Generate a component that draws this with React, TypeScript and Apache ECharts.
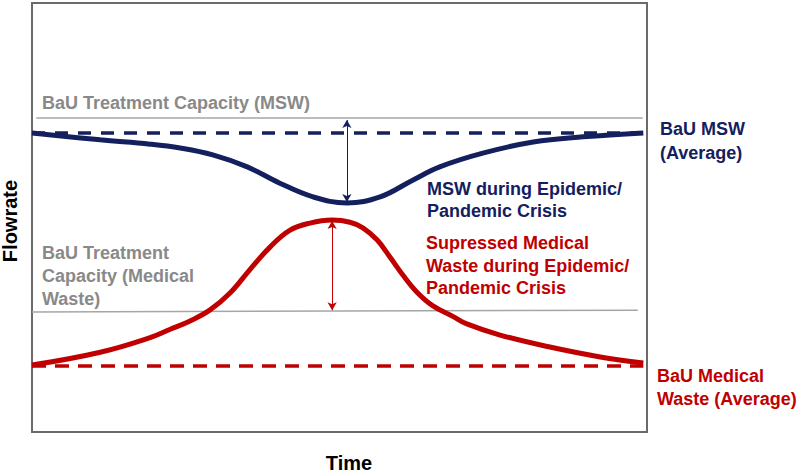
import React, { useEffect, useRef } from "react";
import * as echarts from "echarts";

// Time (0-100) and flowrate (0-100)
const mswTime = [0, 11.1, 19.2, 24.1, 29.4, 35.0, 40.3, 45.7, 51.2, 56.6, 61.9, 66.3, 73.3, 81.5, 89.6, 99.4];
const mswFlow = [69.7, 68.1, 67.1, 66.2, 64.6, 61.8, 58.0, 54.8, 53.4, 54.8, 58.7, 61.8, 65.0, 67.6, 68.8, 69.7];

const medTime = [0, 11.1, 19.2, 22.4, 25.7, 28.9, 32.2, 35.4, 38.7, 41.9, 45.2, 48.8, 51.7, 53.8, 56.1, 58.2, 60.3, 62.6, 65.2, 68.5, 70.7, 76.1, 84.2, 92.4, 99.4];
const medFlow = [15.6, 18.6, 22.0, 23.9, 25.9, 28.4, 32.4, 37.8, 43.1, 47.0, 48.7, 49.4, 48.9, 47.6, 44.8, 40.8, 36.6, 32.6, 29.4, 26.9, 25.2, 22.6, 19.8, 17.5, 16.1];

const mswCapacity = { x: [0.7, 99.3], y: [73.2, 73.2] };
const medCapacity = { x: [0, 98.5], y: [28.0, 28.4] };
const mswAverage = { x: [0, 99.4], y: [69.7, 69.7] };
const medAverage = { x: [0, 99.4], y: [15.4, 15.4] };

const mswArrow = { x: 51.2, y: [72.7, 53.6] };
const medArrow = { x: 48.8, y: [49.2, 28.4] };

const NAVY = "#14205e";
const RED = "#c00000";
const GRAY_LINE = "#a6a6a6";
const GRAY_TEXT = "#898989";
const FONT = "'Liberation Sans', Arial, sans-serif";

const pairs = (xs: number[], ys: number[]) => xs.map((x, i) => [x, ys[i]]);

export default function App() {
  const ref = useRef<HTMLDivElement>(null);
  useEffect(() => {
    if (!ref.current) return;
    const chart = echarts.init(ref.current, undefined, { renderer: "svg" });
    const txt = (x: number, y: number, text: string, color: string, size = 18, extra: any = {}) => ({
      type: "text",
      x,
      y,
      style: {
        text,
        fill: color,
        font: `bold ${size}px ${FONT}`,
        textVerticalAlign: "middle",
        textAlign: "left",
        ...extra,
      },
    });
    chart.setOption({
      animation: false,
      grid: {
        left: 32,
        top: 3,
        width: 615,
        height: 429,
        show: true,
        borderColor: "#6a6a6a",
        borderWidth: 2,
        backgroundColor: "transparent",
      },
      xAxis: { type: "value", min: 0, max: 100, show: false },
      yAxis: { type: "value", min: 0, max: 100, show: false },
      series: [
        {
          type: "line",
          data: pairs(mswCapacity.x, mswCapacity.y),
          symbol: "none",
          lineStyle: { color: GRAY_LINE, width: 1.5 },
        },
        {
          type: "line",
          data: pairs(medCapacity.x, medCapacity.y),
          symbol: "none",
          lineStyle: { color: GRAY_LINE, width: 1.5 },
        },
        {
          type: "line",
          data: pairs(mswAverage.x, mswAverage.y),
          symbol: "none",
          lineStyle: { color: NAVY, width: 3.5, type: [13, 10] },
        },
        {
          type: "line",
          data: pairs(medAverage.x, medAverage.y),
          symbol: "none",
          lineStyle: { color: RED, width: 3.5, type: [14, 9] },
        },
        {
          type: "line",
          data: pairs(mswTime, mswFlow),
          symbol: "none",
          smooth: 0.4,
          lineStyle: { color: NAVY, width: 5 },
          markLine: {
            silent: true,
            symbol: ["arrow", "arrow"],
            symbolSize: [7, 8],
            label: { show: false },
            lineStyle: { color: NAVY, width: 1, type: "solid" },
            data: [[{ coord: [mswArrow.x, mswArrow.y[0]] }, { coord: [mswArrow.x, mswArrow.y[1]] }]],
          },
        },
        {
          type: "line",
          data: pairs(medTime, medFlow),
          symbol: "none",
          smooth: 0.4,
          lineStyle: { color: RED, width: 5 },
          markLine: {
            silent: true,
            symbol: ["arrow", "arrow"],
            symbolSize: [7, 8],
            label: { show: false },
            lineStyle: { color: RED, width: 1, type: "solid" },
            data: [[{ coord: [medArrow.x, medArrow.y[0]] }, { coord: [medArrow.x, medArrow.y[1]] }]],
          },
        },
      ],
      graphic: [
        txt(42, 103, "BaU Treatment Capacity (MSW)", GRAY_TEXT),
        txt(42, 253, "BaU Treatment", GRAY_TEXT),
        txt(42, 276, "Capacity (Medical", GRAY_TEXT),
        txt(42, 299, "Waste)", GRAY_TEXT),
        txt(427, 189, "MSW during Epidemic/", NAVY),
        txt(427, 211, "Pandemic Crisis", NAVY),
        txt(426, 243, "Supressed Medical", RED),
        txt(426, 266, "Waste during Epidemic/", RED),
        txt(426, 288, "Pandemic Crisis", RED),
        txt(660, 129, "BaU MSW", NAVY),
        txt(660, 153, "(Average)", NAVY),
        txt(657, 376, "BaU Medical", RED),
        txt(657, 399, "Waste (Average)", RED),
        {
          type: "text",
          x: 10,
          y: 221,
          rotation: Math.PI / 2,
          style: {
            text: "Flowrate",
            fill: "#000",
            font: `bold 20px ${FONT}`,
            textAlign: "center",
            textVerticalAlign: "middle",
          },
        },
        {
          type: "text",
          x: 349,
          y: 463,
          style: {
            text: "Time",
            fill: "#000",
            font: `bold 20px ${FONT}`,
            textAlign: "center",
            textVerticalAlign: "middle",
          },
        },
      ],
    });
    return () => chart.dispose();
  }, []);
  return (
    <div
      ref={ref}
      style={{ position: "fixed", left: 0, top: 0, width: 800, height: 473, background: "#fff" }}
    />
  );
}
